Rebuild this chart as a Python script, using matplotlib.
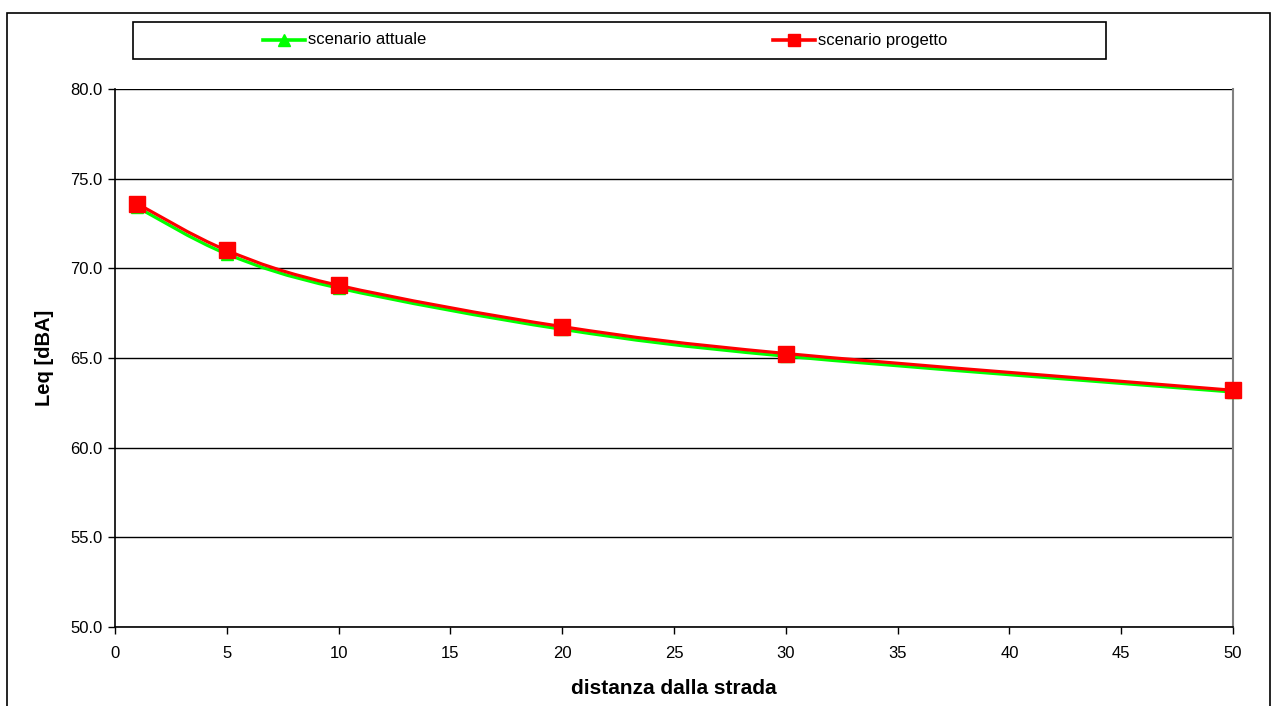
import matplotlib
matplotlib.use("Agg")
import matplotlib.pyplot as plt
from matplotlib.path import Path
from matplotlib.patches import PathPatch, Rectangle
from matplotlib.lines import Line2D
import numpy as np

plt.rcParams['font.family'] = ['Liberation Sans', 'DejaVu Sans']

distanza = [1, 5, 10, 20, 30, 50]
leq_attuale = [73.4, 70.8, 68.9, 66.6, 65.1, 63.1]
leq_progetto = [73.6, 71.0, 69.05, 66.75, 65.25, 63.2]
series_names = ["scenario attuale", "scenario progetto"]
xticks = list(range(0, 55, 5))
yticks = [50.0, 55.0, 60.0, 65.0, 70.0, 75.0, 80.0]

W, H = 1274, 706
fig = plt.figure(figsize=(W / 100, H / 100), dpi=100)
fig.patch.set_facecolor("white")

# outer chart frame
fig.add_artist(Rectangle((7 / W, -0.05), (1270 - 7) / W, 1.05 - 13 / H,
                         transform=fig.transFigure, fill=False,
                         edgecolor="black", lw=1.2))

ax = fig.add_axes([115 / W, 1 - 627 / H, (1233 - 115) / W, (627 - 89) / H])
ax.set_xlim(0, 50)
ax.set_ylim(50, 80)


def smooth_path(xs, ys, tension=1 / 6):
    """Cardinal-spline style Bezier path through the points."""
    pts = np.column_stack([xs, ys]).astype(float)
    n = len(pts)
    verts = [pts[0]]
    codes = [Path.MOVETO]
    for i in range(n - 1):
        p0 = pts[i - 1] if i > 0 else pts[i]
        p1 = pts[i]
        p2 = pts[i + 1]
        p3 = pts[i + 2] if i + 2 < n else pts[i + 1]
        c1 = p1 + (p2 - p0) * tension
        c2 = p2 - (p3 - p1) * tension
        verts += [c1, c2, p2]
        codes += [Path.CURVE4] * 3
    return Path(verts, codes)


# build the spline in screen-proportional units so the curve looks smooth,
# then map the control points back to data coordinates
def draw_series(xs, ys, color, marker, ms, z):
    sx = 1 / 50.0
    sy = 1 / 30.0 * ((627 - 89) / (1233 - 115))
    p = smooth_path(np.array(xs) * sx, (np.array(ys) - 50) * sy)
    verts = p.vertices.copy()
    verts[:, 0] = verts[:, 0] / sx
    verts[:, 1] = verts[:, 1] / sy + 50
    ax.add_patch(PathPatch(Path(verts, p.codes), fill=False, edgecolor=color,
                           lw=2.3, zorder=z, capstyle="round"))
    ax.plot(xs, ys, linestyle="none", marker=marker, ms=ms, color=color,
            markeredgecolor=color, zorder=z + 0.5, clip_on=False)


draw_series(distanza, leq_attuale, "#00ff00", "^", 9, 3)
draw_series(distanza, leq_progetto, "#ff0000", "s", 11, 4)

ax.set_xticks(xticks)
ax.set_yticks(yticks)
ax.set_yticklabels([f"{v:.1f}" for v in yticks])
ax.tick_params(axis="both", labelsize=12, direction="out", length=5,
               width=1, color="black", pad=4)
ax.tick_params(axis="x", pad=9)
ax.grid(axis="y", color="black", lw=1)
ax.set_axisbelow(True)
ax.spines["top"].set_visible(False)
ax.spines["right"].set_color("#808080")
ax.spines["right"].set_linewidth(1.5)
for s in ("left", "bottom"):
    ax.spines[s].set_color("black")
    ax.spines[s].set_linewidth(1.2)

ax.set_xlabel("distanza dalla strada", fontsize=15, fontweight="bold", labelpad=13)
ax.set_ylabel("Leq [dBA]", fontsize=14.5, fontweight="bold", labelpad=12)

# legend box at the top
fig.add_artist(Rectangle((133 / W, 1 - 59 / H), (1106 - 133) / W, (59 - 22) / H,
                         transform=fig.transFigure, fill=True, facecolor="white",
                         edgecolor="black", lw=1.2))
ly = 1 - 40 / H
for (x0, x1, tx), name, color, marker, ms in [
    ((263, 305, 308), series_names[0], "#00ff00", "^", 8),
    ((773, 815, 818), series_names[1], "#ff0000", "s", 8),
]:
    fig.add_artist(Line2D([x0 / W, x1 / W], [ly, ly], transform=fig.transFigure,
                          color=color, lw=2.6))
    fig.add_artist(Line2D([(x0 + x1) / 2 / W], [ly], transform=fig.transFigure,
                          color=color, marker=marker, ms=ms, linestyle="none"))
    fig.text(tx / W, ly, name, fontsize=12, va="center", ha="left")

fig.savefig("out.png", dpi=100)
